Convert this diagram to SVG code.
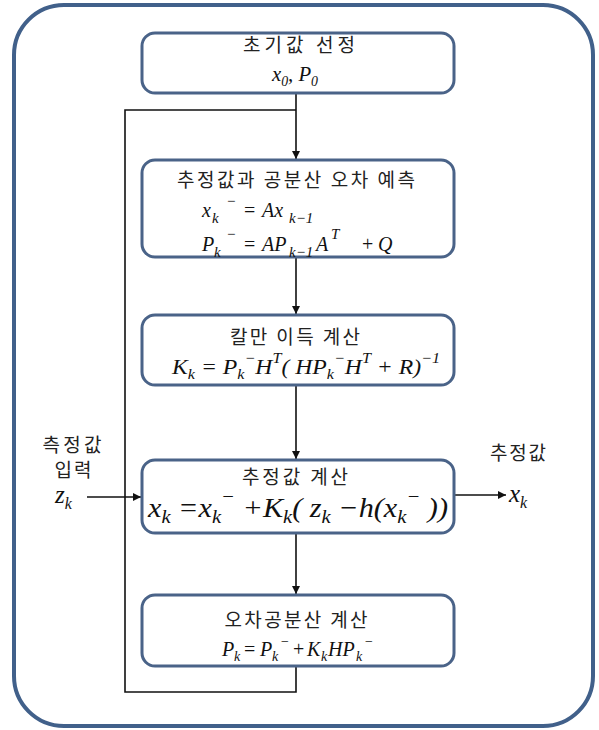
<svg xmlns="http://www.w3.org/2000/svg" width="599" height="730" viewBox="0 0 599 730">
<style>
.frame{fill:#fff;stroke:#41608a;stroke-width:4}
.box{fill:#fff;stroke:#4a6388;stroke-width:3}
.kr{font-family:"Noto Sans CJK KR","Noto Sans",sans-serif;font-size:19px;fill:#222;text-anchor:middle}
.m{font-family:"Liberation Serif",serif;font-style:italic;fill:#111}
.n{font-style:normal}
.ln{fill:none;stroke:#111;stroke-width:1.6}
</style>
<defs>
<marker id="ah" viewBox="0 0 10 10" refX="10" refY="5" markerWidth="8" markerHeight="8" orient="auto" markerUnits="userSpaceOnUse">
<path d="M0,0 L10,5 L0,10 z" fill="#111"/>
</marker>
</defs>
<rect class="frame" x="14" y="5" width="579" height="721" rx="50" ry="50"/>

<g id="connectors">
<path class="ln" d="M296,93 V159" marker-end="url(#ah)"/>
<path class="ln" d="M296,666 V692 H125 V110 H296"/>
<path class="ln" d="M296,257 V314" marker-end="url(#ah)"/>
<path class="ln" d="M296,385 V459" marker-end="url(#ah)"/>
<path class="ln" d="M296,533 V594" marker-end="url(#ah)"/>
<path class="ln" d="M87,497 H141" marker-end="url(#ah)"/>
<path class="ln" d="M455,495 H506" marker-end="url(#ah)"/>
</g>

<g id="init">
<rect class="box" x="142" y="33" width="312" height="60" rx="13"/>
<text class="kr" x="299" y="52" textLength="112" lengthAdjust="spacing">초기값 선정</text>
<text class="m" x="272" y="81" font-size="21" textLength="46" lengthAdjust="spacingAndGlyphs">x<tspan font-size="14" y="86">0</tspan><tspan y="81">, P</tspan><tspan font-size="14" y="86">0</tspan></text>
</g>

<g id="predict">
<rect class="box" x="142" y="160" width="312" height="97" rx="13"/>
<text class="kr" x="296" y="187" textLength="238" lengthAdjust="spacing">추정값과 공분산 오차 예측</text>
<text class="m" y="217" font-size="20"><tspan x="202">x</tspan><tspan x="212" y="223" font-size="15">k</tspan><tspan x="226" y="206" font-size="15">−</tspan><tspan class="n" x="244" y="217">=</tspan><tspan x="262" y="217">Ax</tspan><tspan x="289" y="223" font-size="15">k−1</tspan></text>
<text class="m" y="251" font-size="20"><tspan x="202">P</tspan><tspan x="214" y="257" font-size="15">k</tspan><tspan x="226" y="239" font-size="15">−</tspan><tspan class="n" x="244" y="251">=</tspan><tspan x="262" y="251">AP</tspan><tspan x="289" y="257" font-size="15">k−1</tspan><tspan x="316" y="251">A</tspan><tspan x="331" y="239" font-size="15">T</tspan><tspan class="n" x="362" y="251">+</tspan><tspan x="378" y="251">Q</tspan></text>
</g>

<g id="gain">
<rect class="box" x="142" y="315" width="312" height="70" rx="13"/>
<text class="kr" x="295" y="344" textLength="130" lengthAdjust="spacing">칼만 이득 계산</text>
<text class="m" x="172" y="374" font-size="22" textLength="268" lengthAdjust="spacingAndGlyphs">K<tspan font-size="15" y="379">k</tspan><tspan y="374"> = P</tspan><tspan font-size="15" y="379">k</tspan><tspan font-size="15" y="363">−</tspan><tspan y="374">H</tspan><tspan font-size="15" y="363">T</tspan><tspan y="374">( HP</tspan><tspan font-size="15" y="379">k</tspan><tspan font-size="15" y="363">−</tspan><tspan y="374">H</tspan><tspan font-size="15" y="363">T</tspan><tspan y="374"> + R)</tspan><tspan font-size="15" y="363">−1</tspan></text>
</g>

<g id="update">
<rect class="box" x="142" y="460" width="312" height="73" rx="13"/>
<text class="kr" x="295" y="484" textLength="106" lengthAdjust="spacing">추정값 계산</text>
<text class="m" x="148" y="517" font-size="28" textLength="300" lengthAdjust="spacingAndGlyphs">x<tspan font-size="19" y="523">k</tspan><tspan y="517"> =x</tspan><tspan font-size="19" y="523">k</tspan><tspan font-size="19" y="503">−</tspan><tspan y="517"> +K</tspan><tspan font-size="19" y="523">k</tspan><tspan y="517">( z</tspan><tspan font-size="19" y="523">k</tspan><tspan y="517"> −h(x</tspan><tspan font-size="19" y="523">k</tspan><tspan font-size="19" y="503">−</tspan><tspan y="517"> ))</tspan></text>
</g>

<g id="covariance">
<rect class="box" x="142" y="595" width="312" height="71" rx="13"/>
<text class="kr" x="296" y="627" textLength="143" lengthAdjust="spacing">오차공분산 계산</text>
<text class="m" y="656" font-size="20"><tspan x="222">P</tspan><tspan x="234" y="661" font-size="14">k</tspan><tspan class="n" x="244" y="656">=</tspan><tspan x="260" y="656">P</tspan><tspan x="272" y="661" font-size="14">k</tspan><tspan x="280" y="646" font-size="14">−</tspan><tspan class="n" x="293" y="656">+</tspan><tspan x="307" y="656">K</tspan><tspan x="321" y="661" font-size="14">k</tspan><tspan x="328" y="656">HP</tspan><tspan x="356" y="661" font-size="14">k</tspan><tspan x="364" y="646" font-size="14">−</tspan></text>
</g>

<g id="input">
<text class="kr" x="72" y="452" textLength="59" lengthAdjust="spacing">측정값</text>
<text class="kr" x="73" y="477" textLength="37" lengthAdjust="spacing">입력</text>
<text class="m" x="55" y="503" font-size="25">z<tspan font-size="16" y="509">k</tspan></text>
</g>

<g id="output">
<text class="kr" x="518" y="460" textLength="56" lengthAdjust="spacing">추정값</text>
<text class="m" x="509" y="502" font-size="25">x<tspan font-size="16" y="508">k</tspan></text>
</g>
</svg>
